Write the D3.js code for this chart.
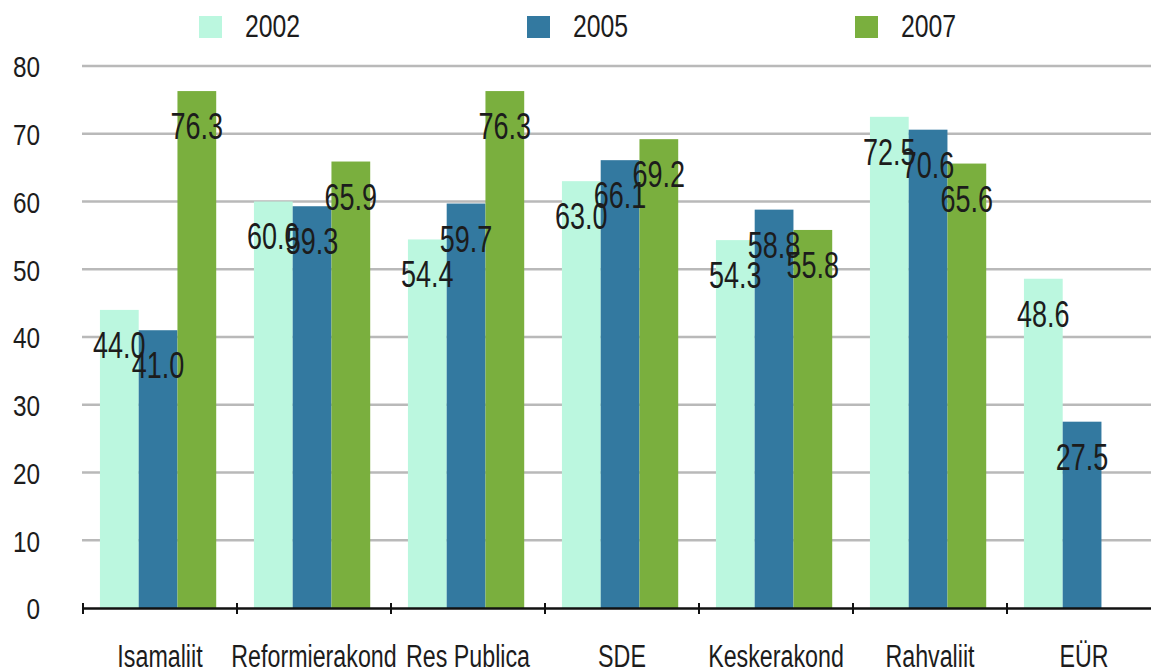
<!DOCTYPE html>
<html>
<head>
<meta charset="utf-8">
<script src="https://cdn.jsdelivr.net/npm/d3@7/dist/d3.min.js"></script>
<style>
  html, body { margin: 0; padding: 0; background: #fff; }
  svg { display: block; }
  text { font-family: "Liberation Sans", Arial, sans-serif; fill: #1c1c1c; }
</style>
</head>
<body>
<script>
/* --- andmed ------------------------------------------------------------ */
const categories = ['Isamaliit', 'Reformierakond', 'Res Publica', 'SDE', 'Keskerakond', 'Rahvaliit', 'EÜR'];
const years = ['2002', '2005', '2007'];
const values2002 = [44.0, 60.0, 54.4, 63.0, 54.3, 72.5, 48.6];
const values2005 = [41.0, 59.3, 59.7, 66.1, 58.8, 70.6, 27.5];
const values2007 = [76.3, 65.9, 76.3, 69.2, 55.8, 65.6, null];
const yTicks = [0, 10, 20, 30, 40, 50, 60, 70, 80];
const colors = ['#bbf7df', '#3379a0', '#7aaf3e'];

const series = [values2002, values2005, values2007];

const W = 1151, H = 670;
const svg = d3.select('body').append('svg').attr('width', W).attr('height', H);

/* kitsa teksti paigutus: translate + horisontaalne skaala (kitsast kirja pole) */
function narrowText(sel, px, py, sx) {
  return sel.attr('x', 0).attr('y', 0)
    .attr('transform', function (d, i) {
      return 'translate(' + px(d, i) + ',' + py(d, i) + ') scale(' + sx + ',1)';
    });
}

/* --- skaalad ----------------------------------------------------------- */
const x = d3.scaleBand().domain(categories).range([83, 1161]).paddingInner(0).paddingOuter(0);
const bw = x.bandwidth();
const xi = d3.scaleBand().domain(years).range([bw * 0.11, bw * 0.865]);
const y = d3.scaleLinear().domain([0, 80]).range([608, 66]);

/* --- ruudustik --------------------------------------------------------- */
svg.append('g').selectAll('line').data(yTicks.filter(d => d > 0)).join('line')
  .attr('x1', 82).attr('x2', W)
  .attr('y1', d => y(d)).attr('y2', d => y(d))
  .attr('stroke', '#b9b9b9').attr('stroke-width', 2.5);

/* y-telje sildid */
svg.append('g').selectAll('text').data(yTicks).join('text')
  .call(narrowText, () => 40, d => y(d) + 1, 0.84)
  .attr('dy', '0.36em')
  .attr('text-anchor', 'end')
  .attr('font-size', 29)
  .text(d3.format('d'));

/* --- tulbad ------------------------------------------------------------ */
const groups = svg.append('g').selectAll('g').data(categories).join('g')
  .attr('transform', d => 'translate(' + x(d) + ',0)');

groups.selectAll('rect')
  .data((c, ci) => years.map((yr, si) => ({ yr: yr, si: si, v: series[si][ci] })).filter(d => d.v != null))
  .join('rect')
  .attr('x', d => xi(d.yr))
  .attr('width', xi.bandwidth())
  .attr('y', d => y(d.v))
  .attr('height', d => y(0) - y(d.v))
  .attr('fill', d => colors[d.si]);

/* väärtuste sildid (kõigi tulpade peal) */
const labelData = [];
categories.forEach(function (c, ci) {
  years.forEach(function (yr, si) {
    const v = series[si][ci];
    if (v != null) labelData.push({ c: c, yr: yr, v: v });
  });
});
svg.append('g').selectAll('text').data(labelData).join('text')
  .call(narrowText, d => x(d.c) + xi(d.yr) + xi.bandwidth() / 2, d => y(d.v) + 35, 0.75)
  .attr('dy', '0.36em')
  .attr('text-anchor', 'middle')
  .attr('font-size', 36)
  .text(d => d.v.toFixed(1));

/* --- x-telg ------------------------------------------------------------ */
svg.append('line')
  .attr('x1', 82).attr('x2', W).attr('y1', y(0) + 0.5).attr('y2', y(0) + 0.5)
  .attr('stroke', '#111').attr('stroke-width', 2.5);

svg.append('g').selectAll('line').data(categories).join('line')
  .attr('x1', d => x(d)).attr('x2', d => x(d))
  .attr('y1', 603).attr('y2', 614)
  .attr('stroke', '#111').attr('stroke-width', 2);

svg.append('g').selectAll('text').data(categories).join('text')
  .call(narrowText, d => x(d) + bw / 2, () => 667, 0.75)
  .attr('text-anchor', 'middle')
  .attr('font-size', 31)
  .text(d => d);

/* --- legend ------------------------------------------------------------ */
const legend = svg.append('g').selectAll('g').data(years).join('g')
  .attr('transform', (d, i) => 'translate(' + (199 + i * 328) + ',16)');
legend.append('rect').attr('width', 23).attr('height', 22).attr('fill', (d, i) => colors[i]);
legend.append('text')
  .call(narrowText, () => 46, () => 20.5, 0.8)
  .attr('font-size', 31)
  .text(d => d);
</script>
</body>
</html>
